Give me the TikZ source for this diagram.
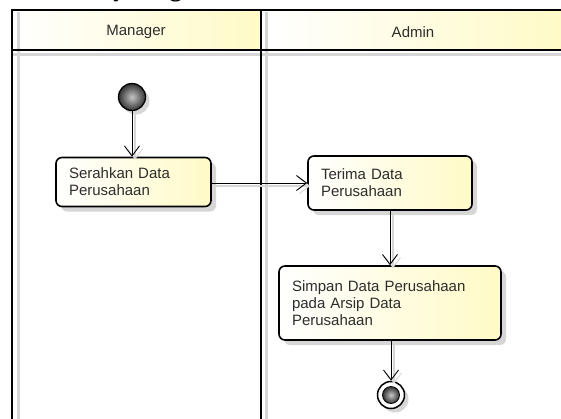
\documentclass[tikz,border=0pt]{standalone}
\usepackage{fontspec}
\setmainfont{Liberation Sans}
\newfontfamily\titlefont{Liberation Serif}
\usetikzlibrary{arrows.meta,shadows}

\definecolor{umlyellow}{RGB}{255,250,198}
\definecolor{umltext}{RGB}{45,45,45}
\definecolor{shadowgray}{RGB}{214,214,214}

\begin{document}
\begin{tikzpicture}[x=1pt,y=-1pt,
  lanerule/.style={line width=2pt,draw=black},
  laneshadow/.style={line width=3pt,draw=shadowgray},
  laneheader/.style={left color=white,right color=umlyellow,draw=none},
  lanelabel/.style={font=\fontsize{15}{18}\selectfont,text=umltext},
  action/.style={draw=black,line width=1.6pt,rounded corners=6pt,
    left color=white,right color=umlyellow,
    drop shadow={shadow xshift=5pt,shadow yshift=-5pt,fill=shadowgray,opacity=1},
    font=\fontsize{15}{17}\selectfont,text=umltext,align=left,
    inner xsep=13pt,inner ysep=4pt},
  startnode/.style={circle,draw=black,line width=1.3pt,minimum size=27pt,inner sep=0pt,
    inner color=gray!45,outer color=black!80,
    drop shadow={shadow xshift=4pt,shadow yshift=-4pt,fill=shadowgray,opacity=1}},
  endring/.style={circle,draw=black,line width=1.5pt,fill=white,minimum size=27pt,inner sep=0pt,
    drop shadow={shadow xshift=4pt,shadow yshift=-4pt,fill=shadowgray,opacity=1}},
  endcore/.style={circle,draw=black,line width=0.8pt,minimum size=17pt,inner sep=0pt,
    inner color=gray!45,outer color=black!80},
  flow/.style={draw=black,line width=0.9pt,-{Straight Barb[length=10pt,width=15pt,line width=0.9pt]},
    preaction={draw=shadowgray,line width=1.3pt,transform canvas={xshift=3pt,yshift=-3pt}}}
]
\useasboundingbox (0,0) rectangle (561,418);
\fill[white] (0,0) rectangle (561,418);

% heading above the diagram, cut by the page edge
\begin{scope}
  \clip (0,0) rectangle (561,418);
  \node[anchor=base west,inner sep=0pt,font=\titlefont\bfseries\fontsize{25}{30}\selectfont] (title) at (41,-4) {Activity Diagram};
\end{scope}

% swimlane headers
\shade[laneheader] (12,10) rectangle (261,50);
\shade[laneheader] (261,10) rectangle (566,50);

% swimlane shadows
\draw[laneshadow] (12,54) -- (566,54);
\draw[laneshadow] (18,12) -- (18,430);
\draw[laneshadow] (266,12) -- (266,430);

% swimlane frame
\draw[lanerule] (11,10) -- (566,10);
\draw[lanerule] (11,50) -- (566,50);
\draw[lanerule] (12,10) -- (12,430);
\draw[lanerule] (261,10) -- (261,430);
\draw[lanerule] (565,10) -- (565,430);

\node[lanelabel] (manager) at (136,32) {Manager};
\node[lanelabel] (admin) at (413,32) {Admin};

% actions
\node[action,minimum width=155pt,minimum height=49pt,text width=129pt] (serahkan) at (133.5,182) {Serahkan Data\\Perusahaan};
\node[action,minimum width=164pt,minimum height=54pt,text width=138pt] (terima) at (390,183) {Terima Data\\Perusahaan};
\node[action,minimum width=222pt,minimum height=74pt,text width=196pt] (simpan) at (390,303) {Simpan Data Perusahaan\\pada Arsip Data\\Perusahaan};

% initial and final nodes
\node[startnode] (start) at (132,97) {};
\node[endring] (finish) at (391,395) {};
\node[endcore] (finishcore) at (finish) {};

% control flows
\draw[flow] (start) -- (start |- serahkan.north);
\draw[flow] (serahkan.east |- terima.west) -- (terima.west);
\draw[flow] (terima.south) -- (simpan.north);
\draw[flow] (simpan.south -| finish) -- (finish.north);
\end{tikzpicture}
\end{document}
